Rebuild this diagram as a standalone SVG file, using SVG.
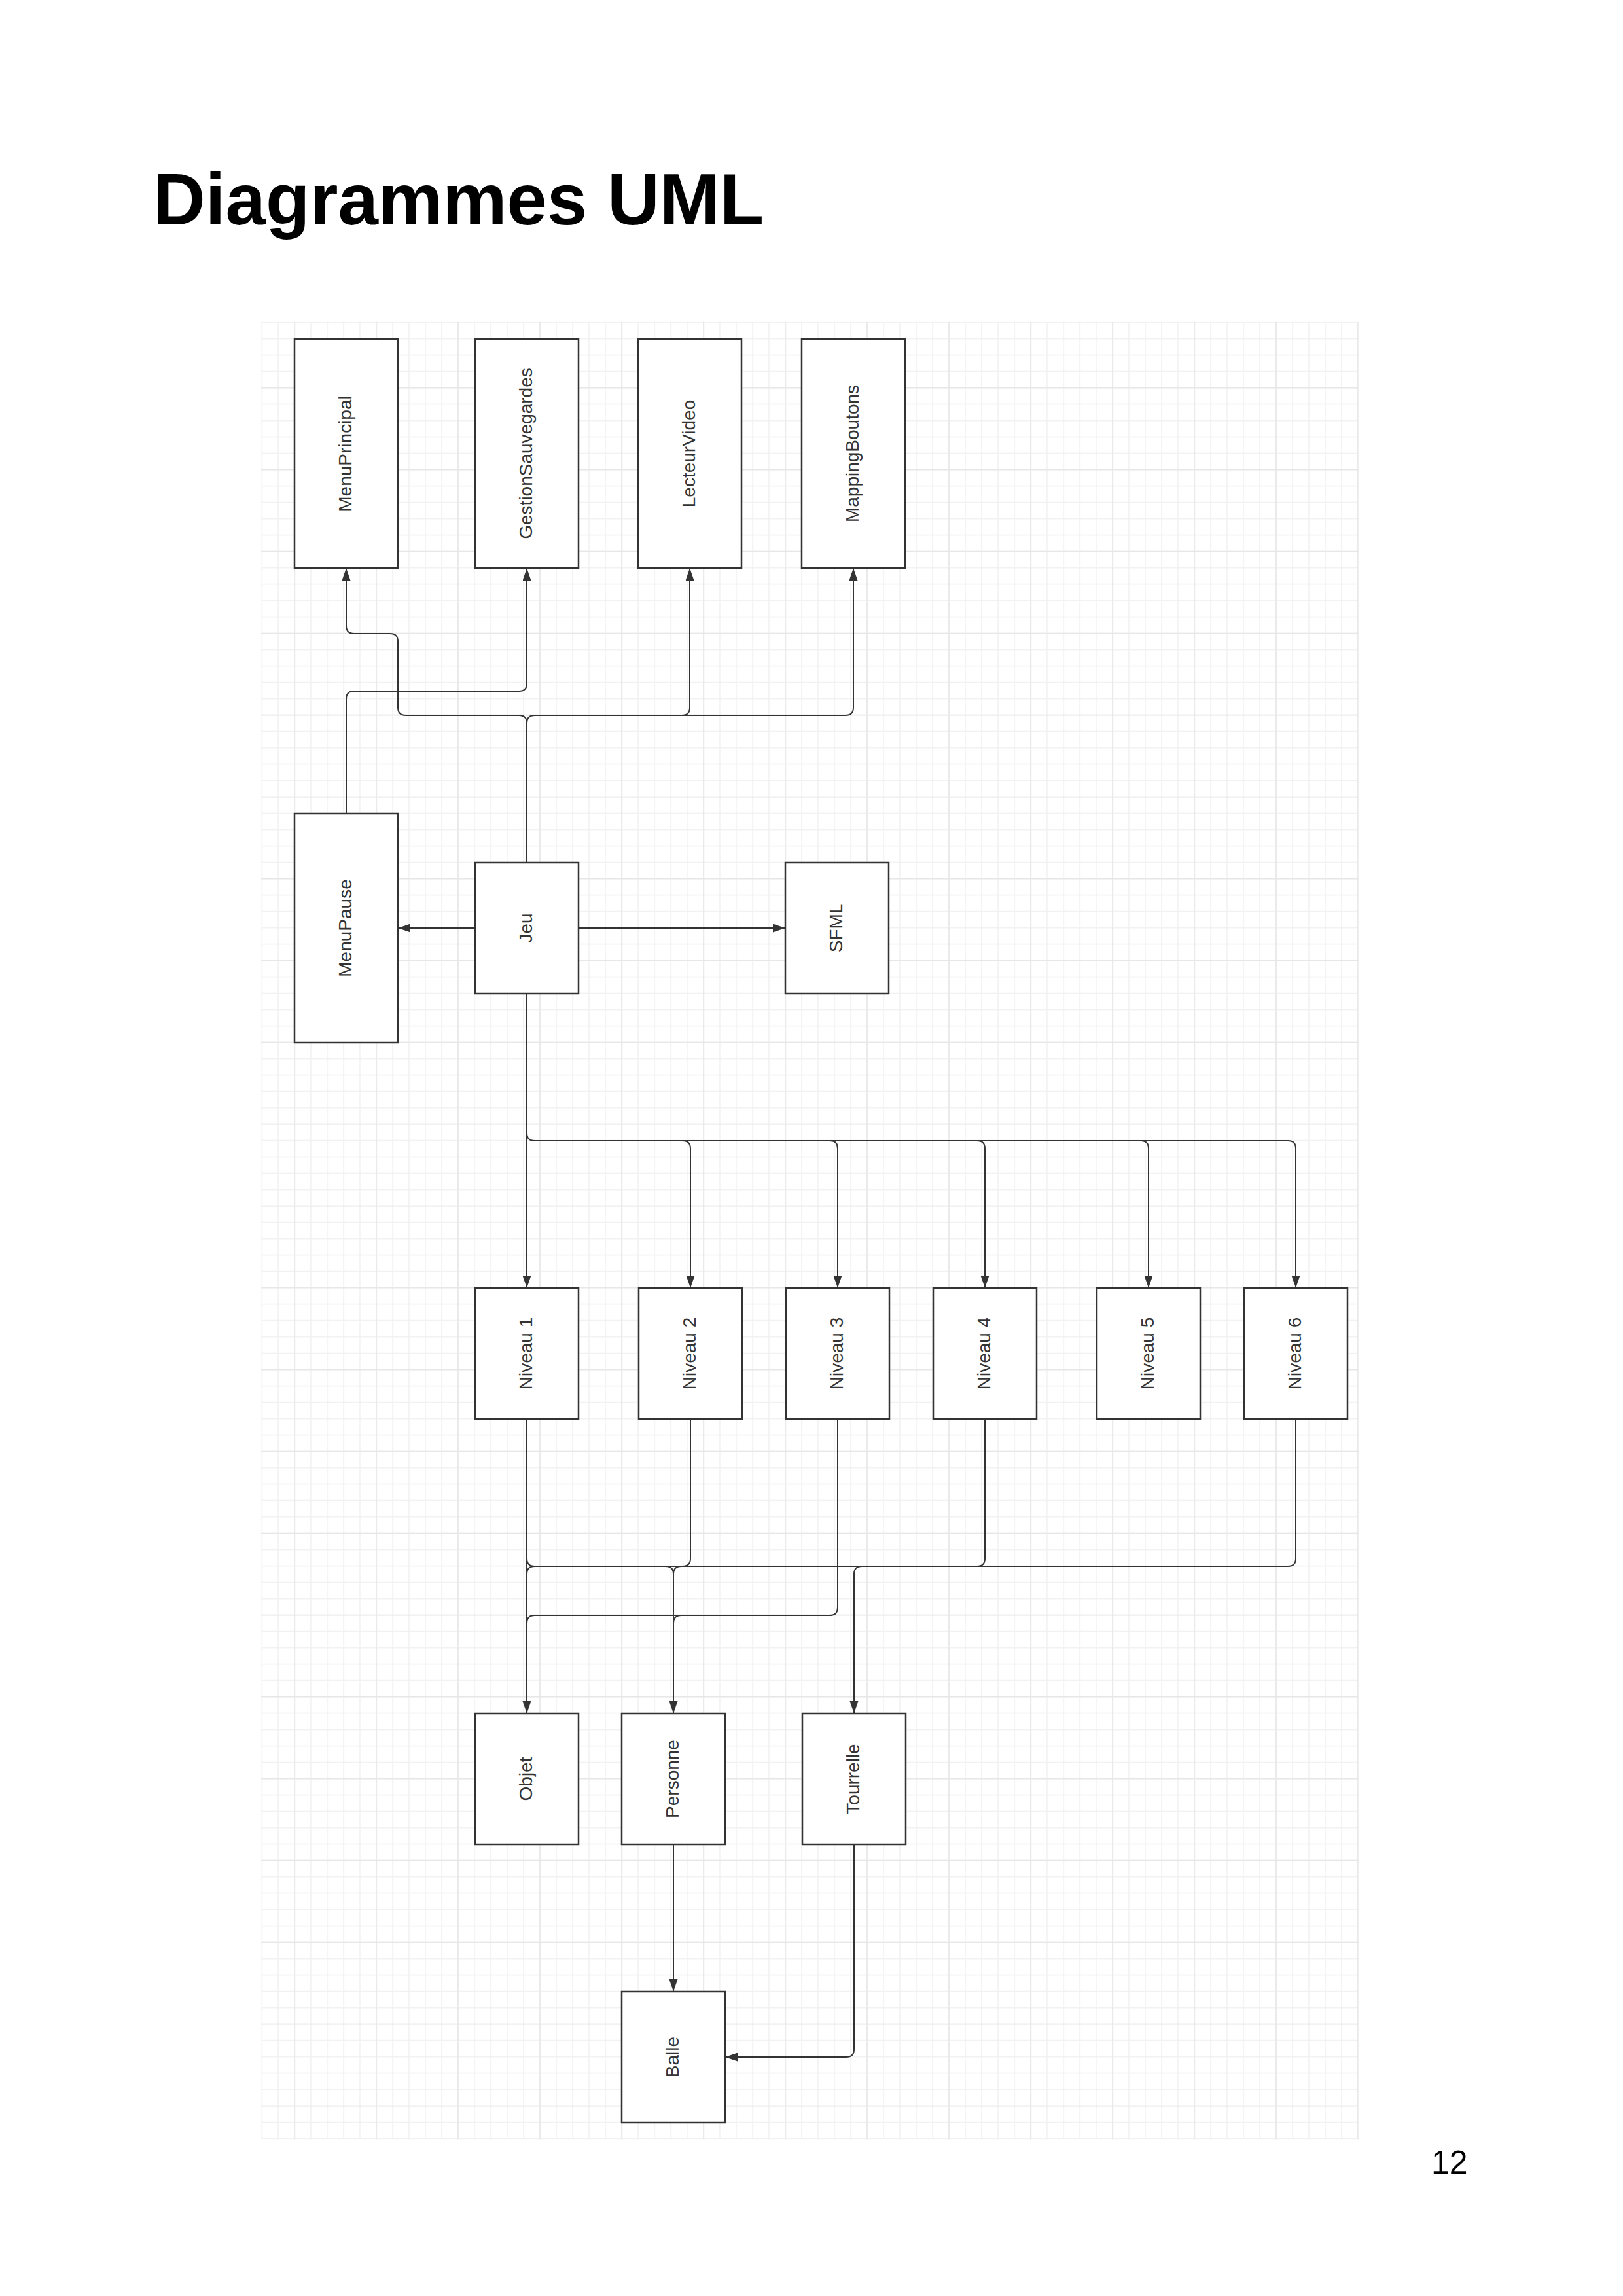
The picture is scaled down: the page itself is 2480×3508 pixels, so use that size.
<svg xmlns="http://www.w3.org/2000/svg" width="2480" height="3508" viewBox="0 0 2480 3508">
<style>
.box{fill:#ffffff;stroke:#333333;stroke-width:2.5}
.lbl{font-family:"Liberation Sans",Arial,sans-serif;font-size:28px;fill:#333333;text-anchor:middle}
.c{fill:none;stroke:#333333;stroke-width:2}
.title{font-family:"Liberation Sans",Arial,sans-serif;font-weight:bold;font-size:110.5px;fill:#000000}
.pg{font-family:"Liberation Sans",Arial,sans-serif;font-size:50px;fill:#000000}
</style>
<defs>
<marker id="arr" markerUnits="userSpaceOnUse" markerWidth="20" markerHeight="14" refX="19" refY="6.5" orient="auto">
<path d="M0,0 L19,6.5 L0,13 z" fill="#333333"/>
</marker>
<pattern id="minor" patternUnits="userSpaceOnUse" x="399.25" y="491.75" width="25" height="25">
<rect x="0" y="0" width="25" height="1.5" fill="#f0f0f0"/>
<rect x="0" y="0" width="1.5" height="25" fill="#f0f0f0"/>
</pattern>
<pattern id="major" patternUnits="userSpaceOnUse" x="449.25" y="591.75" width="125" height="125">
<rect x="0" y="0" width="125" height="1.5" fill="#e6e6e6"/>
<rect x="0" y="0" width="1.5" height="125" fill="#e6e6e6"/>
</pattern>
</defs>
<rect width="2480" height="3508" fill="#ffffff"/>
<text class="title" x="234" y="343">Diagrammes UML</text>
<g id="grid">
<rect x="399.25" y="491.75" width="1676.5" height="2776.5" fill="url(#minor)"/>
<rect x="399.25" y="491.75" width="1676.5" height="2776.5" fill="url(#major)"/>
</g>
<g id="connectors">
<path class="c" d="M805 1318 V1105 Q805 1093 793 1093 H620 Q608 1093 608 1081 V980 Q608 968 596 968 H541 Q529 968 529 956 V868" marker-end="url(#arr)"/>
<path class="c" d="M529 1243 V1068 Q529 1056 541 1056 H793 Q805 1056 805 1044 V868" marker-end="url(#arr)"/>
<path class="c" d="M805 1318 V1105 Q805 1093 817 1093 H1042 Q1054 1093 1054 1081 V868" marker-end="url(#arr)"/>
<path class="c" d="M1042 1093 H1292 Q1304 1093 1304 1081 V868" marker-end="url(#arr)"/>
<path class="c" d="M726 1418 H608" marker-end="url(#arr)"/>
<path class="c" d="M884 1418 H1200" marker-end="url(#arr)"/>
<path class="c" d="M805 1518 V1968" marker-end="url(#arr)"/>
<path class="c" d="M805 1731 Q805 1743 817 1743 H1043 Q1055 1743 1055 1755 V1968" marker-end="url(#arr)"/>
<path class="c" d="M1043 1743 H1268 Q1280 1743 1280 1755 V1968" marker-end="url(#arr)"/>
<path class="c" d="M1268 1743 H1493 Q1505 1743 1505 1755 V1968" marker-end="url(#arr)"/>
<path class="c" d="M1493 1743 H1743 Q1755 1743 1755 1755 V1968" marker-end="url(#arr)"/>
<path class="c" d="M1743 1743 H1968 Q1980 1743 1980 1755 V1968" marker-end="url(#arr)"/>
<path class="c" d="M805 2168 V2618" marker-end="url(#arr)"/>
<path class="c" d="M805 2381 Q805 2393 817 2393 H1968 Q1980 2393 1980 2381 V2168"/>
<path class="c" d="M817 2393 Q805 2393 805 2405"/>
<path class="c" d="M1055 2168 V2381 Q1055 2393 1043 2393"/>
<path class="c" d="M1505 2168 V2381 Q1505 2393 1493 2393"/>
<path class="c" d="M1017 2393 Q1029 2393 1029 2405"/>
<path class="c" d="M1041 2393 Q1029 2393 1029 2405 V2618" marker-end="url(#arr)"/>
<path class="c" d="M1317 2393 Q1305 2393 1305 2405 V2618" marker-end="url(#arr)"/>
<path class="c" d="M1280 2168 V2456 Q1280 2468 1268 2468 H817 Q805 2468 805 2480"/>
<path class="c" d="M1041 2468 Q1029 2468 1029 2480"/>
<path class="c" d="M1029 2818 V3043" marker-end="url(#arr)"/>
<path class="c" d="M1305 2818 V3131 Q1305 3143 1293 3143 H1108" marker-end="url(#arr)"/>
</g>
<g id="MenuPrincipal"><rect class="box" x="450" y="518" width="158" height="350"/><text class="lbl" transform="translate(529 693) rotate(-90)" dy="0.3em">MenuPrincipal</text></g>
<g id="GestionSauvegardes"><rect class="box" x="726" y="518" width="158" height="350"/><text class="lbl" transform="translate(805 693) rotate(-90)" dy="0.3em">GestionSauvegardes</text></g>
<g id="LecteurVideo"><rect class="box" x="975" y="518" width="158" height="350"/><text class="lbl" transform="translate(1054 693) rotate(-90)" dy="0.3em">LecteurVideo</text></g>
<g id="MappingBoutons"><rect class="box" x="1225" y="518" width="158" height="350"/><text class="lbl" transform="translate(1304 693) rotate(-90)" dy="0.3em">MappingBoutons</text></g>
<g id="MenuPause"><rect class="box" x="450" y="1243" width="158" height="350"/><text class="lbl" transform="translate(529 1418) rotate(-90)" dy="0.3em">MenuPause</text></g>
<g id="Jeu"><rect class="box" x="726" y="1318" width="158" height="200"/><text class="lbl" transform="translate(805 1418) rotate(-90)" dy="0.3em">Jeu</text></g>
<g id="SFML"><rect class="box" x="1200" y="1318" width="158" height="200"/><text class="lbl" transform="translate(1279 1418) rotate(-90)" dy="0.3em">SFML</text></g>
<g id="Niveau1"><rect class="box" x="726" y="1968" width="158" height="200"/><text class="lbl" transform="translate(805 2068) rotate(-90)" dy="0.3em">Niveau 1</text></g>
<g id="Niveau2"><rect class="box" x="976" y="1968" width="158" height="200"/><text class="lbl" transform="translate(1055 2068) rotate(-90)" dy="0.3em">Niveau 2</text></g>
<g id="Niveau3"><rect class="box" x="1201" y="1968" width="158" height="200"/><text class="lbl" transform="translate(1280 2068) rotate(-90)" dy="0.3em">Niveau 3</text></g>
<g id="Niveau4"><rect class="box" x="1426" y="1968" width="158" height="200"/><text class="lbl" transform="translate(1505 2068) rotate(-90)" dy="0.3em">Niveau 4</text></g>
<g id="Niveau5"><rect class="box" x="1676" y="1968" width="158" height="200"/><text class="lbl" transform="translate(1755 2068) rotate(-90)" dy="0.3em">Niveau 5</text></g>
<g id="Niveau6"><rect class="box" x="1901" y="1968" width="158" height="200"/><text class="lbl" transform="translate(1980 2068) rotate(-90)" dy="0.3em">Niveau 6</text></g>
<g id="Objet"><rect class="box" x="726" y="2618" width="158" height="200"/><text class="lbl" transform="translate(805 2718) rotate(-90)" dy="0.3em">Objet</text></g>
<g id="Personne"><rect class="box" x="950" y="2618" width="158" height="200"/><text class="lbl" transform="translate(1029 2718) rotate(-90)" dy="0.3em">Personne</text></g>
<g id="Tourrelle"><rect class="box" x="1226" y="2618" width="158" height="200"/><text class="lbl" transform="translate(1305 2718) rotate(-90)" dy="0.3em">Tourrelle</text></g>
<g id="Balle"><rect class="box" x="950" y="3043" width="158" height="200"/><text class="lbl" transform="translate(1029 3143) rotate(-90)" dy="0.3em">Balle</text></g>
<text class="pg" x="2187" y="3321">12</text>
</svg>
